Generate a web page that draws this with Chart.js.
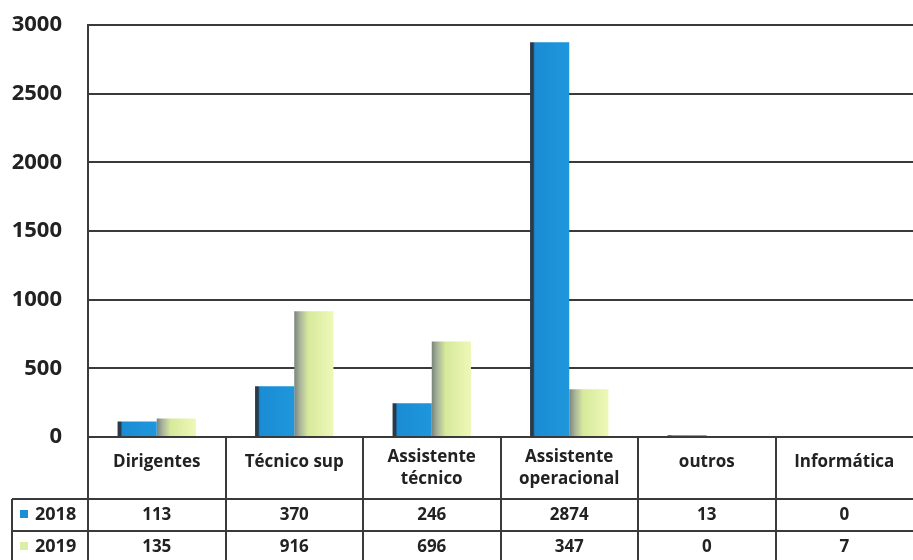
<!DOCTYPE html>
<html>
<head>
<meta charset="utf-8">
<script src="https://cdn.jsdelivr.net/npm/chart.js@4.4.0/dist/chart.umd.min.js"></script>
<style>
  html, body { margin: 0; padding: 0; background: #fff; }
  #wrap { width: 913px; height: 560px; position: relative; }
</style>
</head>
<body>
<div id="wrap"><canvas id="c"></canvas></div>
<script>
const categories = [['Dirigentes'], ['Técnico sup'], ['Assistente', 'técnico'], ['Assistente', 'operacional'], ['outros'], ['Informática']];
const seriesNames = ['2018', '2019'];
const values2018 = [113, 370, 246, 2874, 13, 0];
const values2019 = [135, 916, 696, 347, 0, 7];
const yTicks = [0, 500, 1000, 1500, 2000, 2500, 3000];

const lineColor = '#3a3a3a';
const textColor = '#222';
const barPct = 0.57;

// horizontal shading per bar, a bit like the old 3D office look
function shade(context) {
  const chart = context.chart;
  const flat = context.datasetIndex === 0 ? '#1a8fd6' : '#dcefa6';
  const xs = chart.scales.x;
  if (!chart.chartArea || !xs || context.dataIndex === undefined) return flat;
  const center = xs.getPixelForValue(context.dataIndex);
  const bw = (xs.width / categories.length) * barPct / 2;
  const x0 = center - bw + context.datasetIndex * bw;
  const g = chart.ctx.createLinearGradient(x0, 0, x0 + bw, 0);
  if (context.datasetIndex === 0) {
    g.addColorStop(0, '#2b3a48');
    g.addColorStop(0.08, '#2b3a48');
    g.addColorStop(0.12, '#1a8cd4');
    g.addColorStop(1, '#1f97dc');
  } else {
    g.addColorStop(0, '#7a857a');
    g.addColorStop(0.15, '#aab49c');
    g.addColorStop(0.35, '#d6e99a');
    g.addColorStop(1, '#eef8b8');
  }
  return g;
}

// data table under the plot
const tablePlugin = {
  id: 'dataTable',
  afterDraw(chart) {
    const ctx = chart.ctx;
    const area = chart.chartArea;
    const xs = chart.scales.x;
    const n = categories.length;
    const colW = (area.right - area.left) / n;
    const top = area.bottom;
    const row1 = top + 62, row2 = row1 + 32, bottom = chart.height + 2;
    const legLeft = 12;

    ctx.save();
    ctx.strokeStyle = lineColor;
    ctx.lineWidth = 2;
    ctx.beginPath();
    for (let k = 0; k < n; k++) {
      const x = Math.round(area.left + colW * k);
      ctx.moveTo(x, top);
      ctx.lineTo(x, bottom);
    }
    ctx.moveTo(legLeft, row1); ctx.lineTo(legLeft, bottom);
    ctx.moveTo(legLeft, row1); ctx.lineTo(area.right, row1);
    ctx.moveTo(legLeft, row2); ctx.lineTo(area.right, row2);
    ctx.stroke();

    ctx.fillStyle = textColor;
    ctx.font = 'bold 17px "Open Sans"';
    ctx.textAlign = 'center';
    ctx.textBaseline = 'middle';
    categories.forEach((lines, i) => {
      const cx = xs.getPixelForValue(i);
      if (lines.length === 1) {
        ctx.fillText(lines[0], cx, top + 25);
      } else {
        ctx.fillText(lines[0], cx, top + 20);
        ctx.fillText(lines[1], cx, top + 42);
      }
      ctx.fillText(String(values2018[i]), cx, row1 + 16);
      ctx.fillText(String(values2019[i]), cx, row2 + 16);
    });

    // legend keys in the first column
    const keys = ['#1a8fd6', '#dcefa6'];
    [row1, row2].forEach((ry, j) => {
      ctx.fillStyle = keys[j];
      ctx.fillRect(20, ry + 11, 8, 8);
      ctx.fillStyle = textColor;
      ctx.textAlign = 'left';
      ctx.font = 'bold 18px "Open Sans"';
      ctx.fillText(seriesNames[j], 35, ry + 16);
    });
    ctx.restore();
  }
};

new Chart(document.getElementById('c'), {
  type: 'bar',
  data: {
    labels: categories.map(l => l.join(' ')),
    datasets: [
      { label: seriesNames[0], data: values2018, backgroundColor: shade },
      { label: seriesNames[1], data: values2019, backgroundColor: shade }
    ]
  },
  options: {
    responsive: true,
    maintainAspectRatio: false,
    animation: false,
    layout: { padding: { top: 25, left: 0, right: 0, bottom: 0 } },
    plugins: {
      legend: { display: false },
      tooltip: { enabled: false }
    },
    datasets: {
      bar: { categoryPercentage: barPct, barPercentage: 1.0 }
    },
    scales: {
      x: {
        grid: { display: false },
        border: { display: false },
        ticks: { display: false },
        afterFit(scale) { scale.height = 123; }
      },
      y: {
        min: 0,
        max: 3000,
        afterBuildTicks(scale) { scale.ticks = yTicks.map(v => ({ value: v })); },
        afterFit(scale) {
          scale.width = 88;
          scale.paddingTop = 0;
          scale.paddingBottom = 0;
        },
        grid: { color: lineColor, lineWidth: 2, drawTicks: false },
        border: { display: true, color: lineColor, width: 2 },
        ticks: {
          padding: 26,
          color: textColor,
          font: { family: 'Open Sans', size: 22, weight: 'bold' },
          callback: v => String(v)
        }
      }
    }
  },
  plugins: [tablePlugin]
});
</script>
</body>
</html>
